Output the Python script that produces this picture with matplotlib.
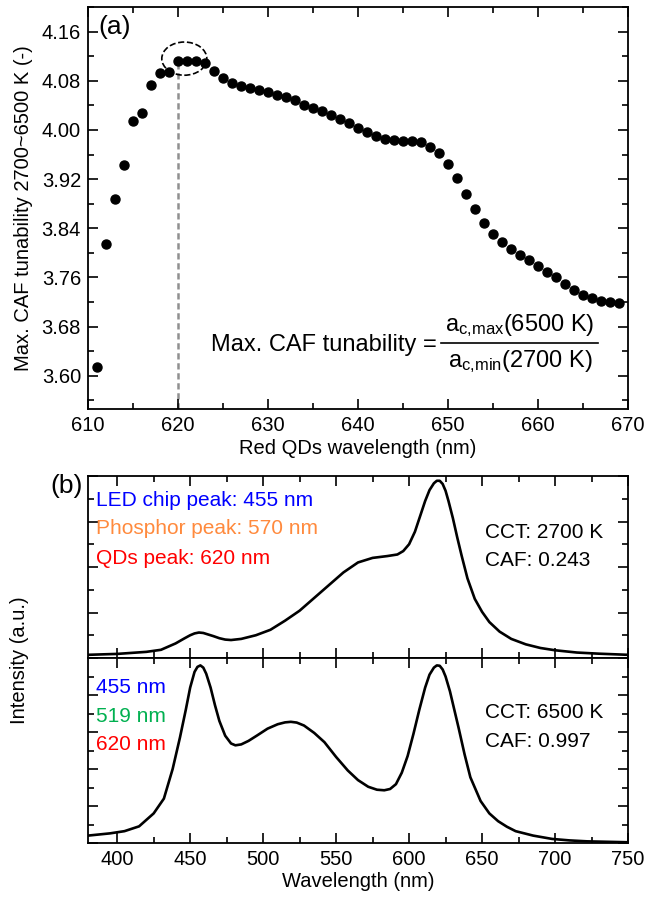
import matplotlib
matplotlib.use('Agg')
import matplotlib.pyplot as plt
from matplotlib.patches import Ellipse
from matplotlib.ticker import MultipleLocator, NullFormatter, FormatStrFormatter

plt.rcParams['font.family'] = ['Liberation Sans', 'DejaVu Sans']
plt.rcParams['mathtext.fontset'] = 'custom'
plt.rcParams['mathtext.rm'] = 'Liberation Sans'
plt.rcParams['mathtext.it'] = 'Liberation Sans:italic'
plt.rcParams['font.size'] = 14.5

# (a) max CAF tunability vs red QD peak wavelength
qd_wl = list(range(611, 670))
caf_tun = [3.614, 3.815, 3.887, 3.943, 4.015, 4.027, 4.073, 4.092, 4.095, 4.112,
           4.112, 4.112, 4.109, 4.096, 4.084, 4.076, 4.071, 4.068, 4.065, 4.061,
           4.057, 4.053, 4.048, 4.041, 4.036, 4.030, 4.024, 4.018, 4.011, 4.003,
           3.996, 3.990, 3.985, 3.983, 3.982, 3.982, 3.980, 3.973, 3.963, 3.944,
           3.921, 3.896, 3.871, 3.848, 3.830, 3.817, 3.806, 3.797, 3.789, 3.779,
           3.769, 3.760, 3.750, 3.740, 3.732, 3.726, 3.722, 3.720, 3.719]
best_wl = 620

# (b) spectra, 2700 K and 6500 K
wl_2700 = [380, 400, 420, 430, 440, 446, 450, 453, 456, 459, 462, 466, 470, 474, 478,
           485, 495, 505, 515, 525, 535, 545, 555, 565, 575, 585, 592, 596, 600, 604,
           608, 611, 614, 617, 619, 621, 623, 625, 627, 630, 633, 636, 640, 645, 650,
           655, 662, 670, 680, 690, 700, 715, 730, 750]
int_2700 = [0.014, 0.018, 0.027, 0.036, 0.064, 0.086, 0.100, 0.108, 0.112, 0.110,
            0.104, 0.096, 0.087, 0.081, 0.079, 0.084, 0.100, 0.124, 0.164, 0.208,
            0.264, 0.320, 0.376, 0.420, 0.440, 0.448, 0.455, 0.470, 0.500, 0.555,
            0.632, 0.690, 0.738, 0.768, 0.779, 0.779, 0.765, 0.735, 0.690, 0.615,
            0.530, 0.450, 0.350, 0.260, 0.203, 0.158, 0.116, 0.084, 0.060, 0.044,
            0.034, 0.024, 0.019, 0.014]

wl_6500 = [380, 395, 405, 415, 425, 432, 438, 443, 447, 450, 453, 455, 457, 459, 461,
           464, 467, 470, 474, 478, 481, 485, 490, 496, 503, 510, 515, 519, 523, 528,
           535, 542, 550, 558, 565, 572, 578, 583, 587, 591, 595, 599, 603, 607, 611,
           614, 617, 619, 621, 623, 625, 628, 631, 634, 638, 642, 649, 655, 661, 667,
           673, 685, 698, 710, 722, 750]
int_6500 = [0.040, 0.052, 0.064, 0.090, 0.160, 0.240, 0.400, 0.570, 0.720, 0.840,
            0.925, 0.952, 0.960, 0.948, 0.915, 0.840, 0.745, 0.660, 0.580, 0.538,
            0.528, 0.533, 0.552, 0.582, 0.618, 0.642, 0.652, 0.655, 0.651, 0.635,
            0.595, 0.545, 0.465, 0.392, 0.340, 0.304, 0.288, 0.285, 0.292, 0.318,
            0.380, 0.470, 0.590, 0.720, 0.840, 0.910, 0.948, 0.960, 0.958, 0.938,
            0.900, 0.820, 0.720, 0.620, 0.480, 0.355, 0.227, 0.160, 0.118, 0.088,
            0.064, 0.040, 0.022, 0.014, 0.009, 0.004]

W, H = 648, 899
fig = plt.figure(figsize=(W / 100, H / 100), dpi=100)


def box(l, t, r, b):
    return [l / W, 1 - b / H, (r - l) / W, (b - t) / H]


def style(ax):
    for s in ax.spines.values():
        s.set_linewidth(1.3)
    ax.tick_params(which='both', direction='in', top=True, right=True, width=1.2)
    ax.tick_params(which='major', length=7, pad=5)
    ax.tick_params(which='minor', length=4)


# ---- panel (a)
ax1 = fig.add_axes(box(88, 7, 628, 409))
ax1.plot(qd_wl, caf_tun, 'o', color='black', markersize=6.5)
ax1.plot([best_wl, best_wl], [3.546, caf_tun[qd_wl.index(best_wl)]], linestyle=(0, (2.5, 1.5)),
         color='#909090', lw=1.8, zorder=1)
ax1.add_patch(Ellipse((620.7, 4.116), 5.0, 0.054, fill=False, linestyle='--', lw=1.2, color='black'))
ax1.set_xlim(610, 670)
ax1.set_ylim(3.546, 4.20)
ax1.xaxis.set_major_locator(MultipleLocator(10))
ax1.xaxis.set_minor_locator(MultipleLocator(5))
ax1.yaxis.set_major_locator(MultipleLocator(0.08))
ax1.yaxis.set_minor_locator(MultipleLocator(0.04))
ax1.yaxis.set_major_formatter(FormatStrFormatter('%.2f'))
style(ax1)
ax1.set_xlabel('Red QDs wavelength (nm)', labelpad=3)
ax1.set_ylabel('Max. CAF tunability 2700~6500 K (-)', labelpad=6)
ax1.text(0.02, 0.95, '(a)', transform=ax1.transAxes, fontsize=19, va='center', ha='left')

# formula
fig.text(437 / W, 1 - 345 / H, 'Max. CAF tunability =', ha='right', va='center', fontsize=17)
fig.text(520 / W, 1 - 326 / H, r'$\mathrm{a_{c{,}max}}$(6500 K)', ha='center', va='center', fontsize=17)
fig.text(520 / W, 1 - 362 / H, r'$\mathrm{a_{c{,}min}}$(2700 K)', ha='center', va='center', fontsize=17)
fig.add_artist(plt.Line2D([441 / W, 598 / W], [1 - 343 / H, 1 - 343 / H], color='black', lw=1.2))

# ---- panel (b)
ax2 = fig.add_axes(box(88, 476, 628, 658))
ax3 = fig.add_axes(box(88, 658, 628, 843), sharex=ax2)
ax2.plot(wl_2700, int_2700, color='black', lw=1.9, solid_joinstyle='round')
ax3.plot(wl_6500, int_6500, color='black', lw=1.9, solid_joinstyle='round')
ax2.set_ylim(0, 0.8)
ax3.set_ylim(0, 1.0)
ax3.set_xlim(380, 750)
for ax in (ax2, ax3):
    ax.xaxis.set_major_locator(MultipleLocator(50))
    ax.xaxis.set_minor_locator(MultipleLocator(25))
    ax.yaxis.set_major_locator(MultipleLocator(0.2))
    ax.yaxis.set_minor_locator(MultipleLocator(0.1))
    ax.yaxis.set_major_formatter(NullFormatter())
    style(ax)
ax2.tick_params(labelbottom=False)
ax3.set_xlabel('Wavelength (nm)', labelpad=2)
fig.text(20 / W, 1 - 660 / H, 'Intensity (a.u.)', rotation=90, ha='center', va='center')
fig.text(50 / W, 1 - 486 / H, '(b)', fontsize=19, ha='left', va='center')

ax2.text(0.015, 0.868, 'LED chip peak: 455 nm', color='#0000FF', transform=ax2.transAxes,
         va='center', fontsize=15)
ax2.text(0.015, 0.709, 'Phosphor peak: 570 nm', color='#FF8A3D', transform=ax2.transAxes,
         va='center', fontsize=15)
ax2.text(0.015, 0.549, 'QDs peak: 620 nm', color='#FF0000', transform=ax2.transAxes,
         va='center', fontsize=15)
ax2.text(0.735, 0.687, 'CCT: 2700 K', transform=ax2.transAxes, va='center', fontsize=15)
ax2.text(0.735, 0.538, 'CAF: 0.243', transform=ax2.transAxes, va='center', fontsize=15)

ax3.text(0.015, 0.843, '455 nm', color='#0000FF', transform=ax3.transAxes, va='center', fontsize=15)
ax3.text(0.015, 0.686, '519 nm', color='#00B050', transform=ax3.transAxes, va='center', fontsize=15)
ax3.text(0.015, 0.530, '620 nm', color='#FF0000', transform=ax3.transAxes, va='center', fontsize=15)
ax3.text(0.735, 0.708, 'CCT: 6500 K', transform=ax3.transAxes, va='center', fontsize=15)
ax3.text(0.735, 0.551, 'CAF: 0.997', transform=ax3.transAxes, va='center', fontsize=15)

fig.savefig('out.png', dpi=100)
